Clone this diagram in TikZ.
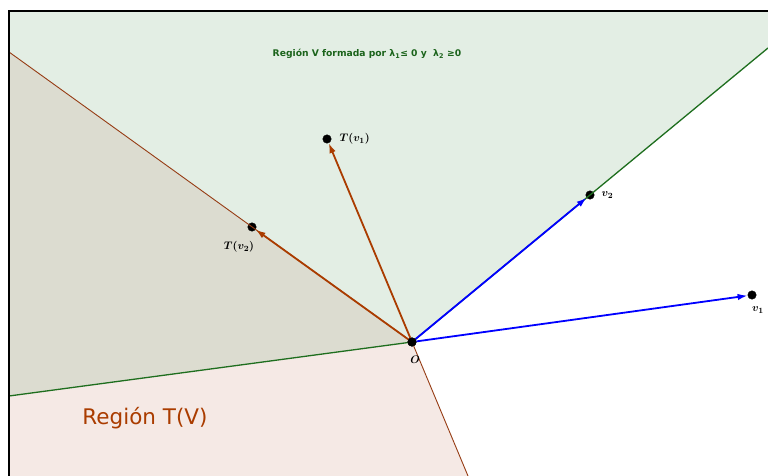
\documentclass[tikz,border=0pt]{standalone}
\usepackage{fontspec}
\setsansfont{DejaVu Sans}
\usepackage{amsmath}
\usetikzlibrary{arrows.meta,positioning,calc}
\definecolor{vgreen}{RGB}{227,238,228}
\definecolor{tpink}{RGB}{245,233,229}
\definecolor{both}{RGB}{220,220,208}
\definecolor{brownline}{RGB}{150,60,20}
\definecolor{brownarr}{RGB}{170,60,0}
\definecolor{greenline}{RGB}{30,110,30}
\tikzset{
  pt/.style={draw, circle, fill=black, inner sep=0pt, minimum size=8.5pt},
  ptlabel/.style={font=\fontsize{11}{13}\selectfont\boldmath, inner sep=1pt},
  bluevec/.style={-{Latex[length=10pt,width=6.5pt]}, blue, line width=1.8pt},
  brownvec/.style={-{Latex[length=10pt,width=6.5pt]}, brownarr, line width=1.8pt},
  edgeV/.style={greenline, line width=1.3pt},
  edgeT/.style={brownline, line width=0.9pt},
  frame/.style={black, line width=2pt}
}

\begin{document}
\begin{tikzpicture}[x=1pt,y=-1pt]
  \useasboundingbox (0,0) rectangle (768,476);

  % regions
  \fill[white] (0,0) rectangle (768,476);
  \fill[vgreen] (412,342) -- (768,48) -- (768,11) -- (9,11) -- (9,52) -- cycle;
  \fill[both] (412,342) -- (9,52) -- (9,396) -- cycle;
  \fill[tpink] (412,342) -- (9,396) -- (9,476) -- (468,476) -- cycle;

  % points
  \node[pt] (O) at (412,342) {};
  \node[pt] (v1) at (752,295) {};
  \node[pt] (v2) at (590,195) {};
  \node[pt] (Tv1) at (327,139) {};
  \node[pt] (Tv2) at (252,227) {};
  \coordinate (Vtop) at (768,48);
  \coordinate (Vleft) at (9,396);
  \coordinate (Ttop) at (9,52);
  \coordinate (Tbot) at (468,476);

  % boundaries
  \draw[edgeV] (O.center) -- (Vtop);
  \draw[edgeV] (O.center) -- (Vleft);
  \draw[edgeT] (O.center) -- (Ttop);
  \draw[edgeT] (O.center) -- (Tbot);

  % vectors
  \draw[bluevec] (O) -- (v1);
  \draw[bluevec] (O) -- (v2);
  \draw[brownvec] (O) -- (Tv1);
  \draw[brownvec] (O) -- (Tv2);

  \node[pt] at (O) {};

  % labels
  \node[ptlabel] (lO) at (415,360) {$O$};
  \node[ptlabel] (lv1) at (758,310) {$v_1$};
  \node[ptlabel, right=6pt of v2] (lv2) {$v_2$};
  \node[ptlabel, right=7pt of Tv1] (lTv1) {$T(v_1)$};
  \node[ptlabel] (lTv2) at (239,247) {$T(v_2)$};

  \node[font=\sffamily\bfseries\fontsize{9.2}{11}\selectfont, text=greenline!90!black] (title) at (367,54) {Región V formada por λ\textsubscript{1}≤ 0 y \ λ\textsubscript{2} ≥0};
  \node[font=\sffamily\fontsize{21.5}{24}\selectfont, text=brownarr] (regT) at (145,418) {Región T(V)};

  % frame
  \draw[frame] (9,476) -- (9,11) -- (768,11);
\end{tikzpicture}
\end{document}
